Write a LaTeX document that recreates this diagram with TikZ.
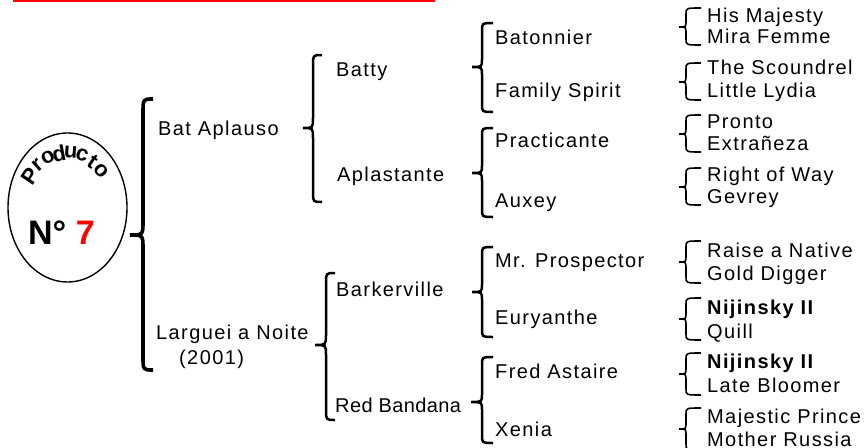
\documentclass[tikz,border=0pt]{standalone}
\usepackage{fontspec}
\setmainfont{Liberation Sans}[LetterSpace=7]
\newfontfamily\plainsans{Liberation Sans}
\usetikzlibrary{shapes.geometric}
\newcommand{\mybrc}[8][]{%
  \draw[#1] (#4,#5) .. controls (#3,#5) .. (#3,{#5+#8}) -- (#3,{#6-#8})
    .. controls (#3,#6) .. (#2,#6) .. controls (#3,#6) .. (#3,{#6+#8})
    -- (#3,{#7-#8}) .. controls (#3,#7) .. (#4,#7);}
\tikzset{
  lbl/.style={anchor=base west, inner sep=0pt, font=\normalfont\fontsize{20}{20}\selectfont},
  blbl/.style={lbl, font=\normalfont\fontsize{20}{20}\selectfont\bfseries},
  arcl/.style={inner sep=0pt, font=\plainsans\bfseries\fontsize{22}{22}\selectfont},
  bigbrace/.style={line width=3.6pt},
  midbrace/.style={line width=2.5pt},
  smallbrace/.style={line width=1.6pt},
}
\begin{document}
\begin{tikzpicture}[x=1pt,y=-1pt]
\useasboundingbox (0,0) rectangle (867,447);
% level 1
\node[lbl] (ba) at (158,135) {Bat Aplauso};
\node[lbl] (ln) at (156,339) {Larguei a Noite};
\node[lbl] (yr) at (179,364) {(2001)};
% level 2
\node[lbl] (batty) at (336,76) {Batty};
\node[lbl] (apl) at (337,181) {Aplastante};
\node[lbl] (bark) at (336,296) {Barkerville};
\node[lbl] (red) at (335,412) {\addfontfeature{LetterSpace=2}Red Bandana};
% level 3
\node[lbl] (bat) at (495,44) {Batonnier};
\node[lbl] (fam) at (495,97) {Family Spirit};
\node[lbl] (pra) at (495,147) {Practicante};
\node[lbl] (aux) at (495,207) {Auxey};
\node[lbl] (mrp) at (495,267) {Mr. Prospector};
\node[lbl] (eur) at (495,324) {Euryanthe};
\node[lbl] (fre) at (495,378) {Fred Astaire};
\node[lbl] (xen) at (495,436) {Xenia};
% level 4
\node[lbl] (r1a) at (707,22) {His Majesty};
\node[lbl] (r1b) at (707,43) {Mira Femme};
\node[lbl] (r2a) at (707,74) {The Scoundrel};
\node[lbl] (r2b) at (707,97) {Little Lydia};
\node[lbl] (r3a) at (707,128) {Pronto};
\node[lbl] (r3b) at (707,150) {Extrañeza};
\node[lbl] (r4a) at (707,181) {Right of Way};
\node[lbl] (r4b) at (707,203) {Gevrey};
\node[lbl] (r5a) at (707,257) {Raise a Native};
\node[lbl] (r5b) at (707,280) {Gold Digger};
\node[blbl] (r6a) at (707,314) {Nijinsky II};
\node[lbl] (r6b) at (707,338) {Quill};
\node[blbl] (r7a) at (707,368) {Nijinsky II};
\node[lbl] (r7b) at (707,392) {Late Bloomer};
\node[lbl] (r8a) at (707,423) {Majestic Prince};
\node[lbl] (r8b) at (707,446) {Mother Russia};
% red rule
\fill[red] (13,0) rectangle (435,2.3);
% emblem
\node[ellipse, draw, line width=1.4pt, minimum width=119pt, minimum height=149pt, inner sep=0pt] (prod) at (67.5,207.5) {};
\foreach \ch/\ang [count=\i] in {P/146,r/131,o/116,d/101,u/86,c/71,t/56,o/41}
  {\node[arcl, rotate=\ang-90] (arc\i) at ({67.5+45*cos(\ang)},{207-55*sin(\ang)}) {\ch};}
\node[anchor=base west, inner sep=0pt, font=\plainsans\bfseries\fontsize{34}{34}\selectfont] (num) at (28,244) {N° \textcolor{red}{7}};
% braces
\mybrc[bigbrace]{130}{143}{153}{99}{235}{370}{14}
\mybrc[midbrace]{303}{313}{322}{55}{128}{202}{10}
\mybrc[midbrace]{315}{326}{335}{273}{345}{420}{10}
\mybrc[midbrace]{472}{482}{493}{23}{67}{112}{8}
\mybrc[midbrace]{472}{482}{493}{128}{173}{217}{8}
\mybrc[midbrace]{472}{482}{493}{247}{292}{337}{8}
\mybrc[midbrace]{471}{482}{493}{357}{402}{443}{8}
\foreach \t/\m/\b in {8/27/45, 63/82/100, 115/134/152, 168/187/205, 241/262/283, 298/319/340, 353/374/395, 408/429/450}
  {\mybrc[smallbrace]{679}{686}{701}{\t}{\m}{\b}{6}}
\end{tikzpicture}
\end{document}
